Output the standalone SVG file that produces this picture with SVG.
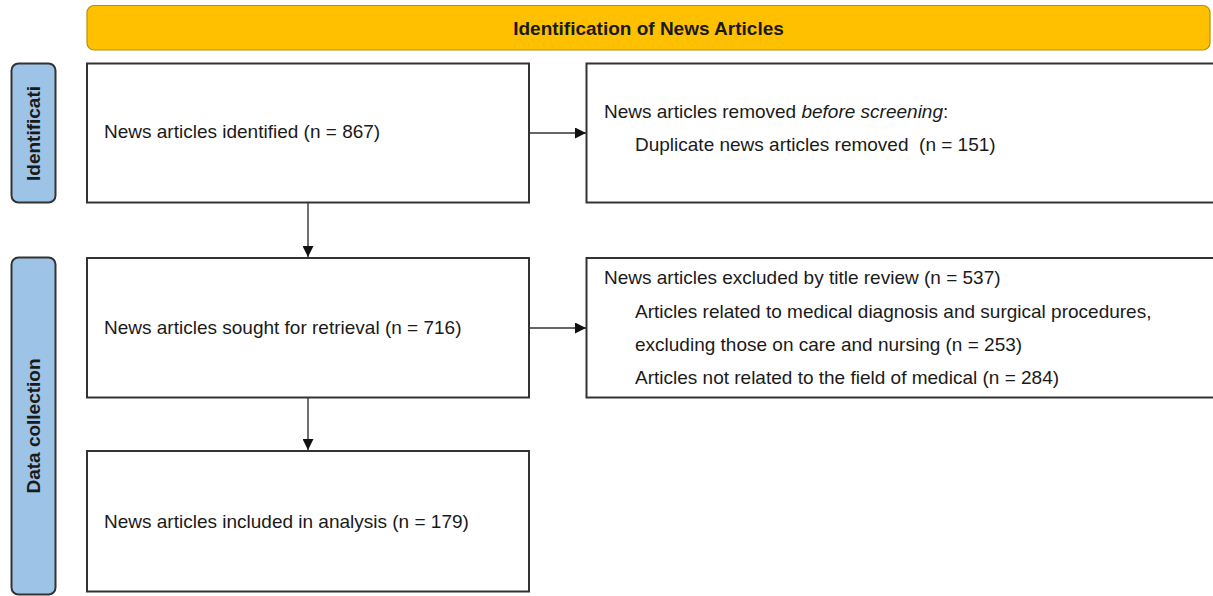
<svg xmlns="http://www.w3.org/2000/svg" width="1213" height="596" viewBox="0 0 1213 596">
<style>
text{font-family:"Liberation Sans",Arial,sans-serif;font-size:19px;fill:#1a1a1a}
.b{font-weight:bold}
.box{fill:#fff;stroke:#333;stroke-width:2}
.side{fill:#9dc3e6;stroke:#333;stroke-width:2}
.conn{stroke:#333;stroke-width:1.4;fill:none}
</style>
<defs>
<marker id="ah" viewBox="0 0 10 10" refX="10" refY="5" markerWidth="11" markerHeight="11" markerUnits="userSpaceOnUse" orient="auto">
<path d="M0,0 L10,5 L0,10 z" fill="#111"/>
</marker>
</defs>
<rect width="1213" height="596" fill="#fff"/>
<g id="header">
<rect x="87" y="5.5" width="1123" height="44.5" rx="7" fill="#ffc000" stroke="#b8900a" stroke-width="1.2"/>
<text class="b" x="648.5" y="34.5" text-anchor="middle">Identification of News Articles</text>
</g>
<g id="stage-identification">
<rect class="side" x="11.5" y="63.5" width="44" height="139" rx="7"/>
<text class="b" transform="translate(40,133.5) rotate(-90)" text-anchor="middle">Identificati</text>
</g>
<g id="stage-data-collection">
<rect class="side" x="11.5" y="257.5" width="44" height="337" rx="7"/>
<text class="b" transform="translate(40,426) rotate(-90)" text-anchor="middle">Data collection</text>
</g>
<g id="n-identified">
<rect class="box" x="87" y="63.5" width="442" height="139"/>
<text x="104" y="138">News articles identified (n = 867)</text>
</g>
<g id="n-removed">
<rect class="box" x="586.5" y="63.5" width="630" height="139"/>
<text x="604" y="118">News articles removed <tspan font-style="italic">before screening</tspan>:</text>
<text x="635" y="151">Duplicate news articles removed &#160;(n = 151)</text>
</g>
<g id="n-sought">
<rect class="box" x="87" y="258" width="442" height="139.5"/>
<text x="104" y="334">News articles sought for retrieval (n = 716)</text>
</g>
<g id="n-excluded">
<rect class="box" x="586.5" y="258" width="630" height="139.5"/>
<text x="604" y="284">News articles excluded by title review (n = 537)</text>
<text x="635" y="318">Articles related to medical diagnosis and surgical procedures,</text>
<text x="635" y="351">excluding those on care and nursing (n = 253)</text>
<text x="635" y="384">Articles not related to the field of medical (n = 284)</text>
</g>
<g id="n-included">
<rect class="box" x="87" y="451" width="442" height="140.5"/>
<text x="104" y="528">News articles included in analysis (n = 179)</text>
</g>
<g id="connectors">
<line class="conn" x1="529" y1="133" x2="586" y2="133" marker-end="url(#ah)"/>
<line class="conn" x1="529" y1="328" x2="586" y2="328" marker-end="url(#ah)"/>
<line class="conn" x1="308" y1="203" x2="308" y2="257" marker-end="url(#ah)"/>
<line class="conn" x1="308" y1="398" x2="308" y2="450" marker-end="url(#ah)"/>
</g>
</svg>
